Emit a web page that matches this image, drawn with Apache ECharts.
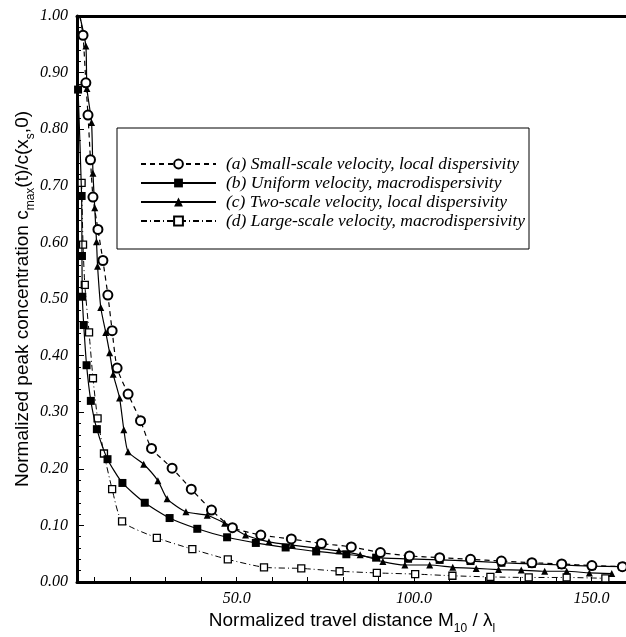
<!DOCTYPE html>
<html>
<head>
<meta charset="utf-8">
<script src="https://cdn.jsdelivr.net/npm/echarts@6/dist/echarts.min.js"></script>
<style>
  html, body { margin: 0; padding: 0; background: #fff; }
  #main { width: 626px; height: 637px; }
</style>
</head>
<body>
<div id="main"></div>
<script>
// data: [travel distance, peak concentration]
var smallScale = [[5.8,1.0],[6.7,0.966],[7.5,0.882],[8.1,0.825],[8.8,0.746],[9.5,0.680],[10.9,0.623],[12.3,0.568],[13.7,0.507],[14.9,0.444],[16.3,0.378],[19.4,0.332],[22.9,0.285],[26.0,0.236],[31.8,0.201],[37.2,0.164],[42.9,0.127],[48.8,0.096],[56.8,0.083],[65.4,0.076],[73.9,0.068],[82.3,0.062],[90.5,0.052],[98.7,0.046],[107.2,0.043],[115.9,0.040],[124.6,0.037],[133.2,0.034],[141.6,0.032],[150.1,0.029],[158.7,0.027]];
var uniform = [[5.3,0.87],[6.3,0.682],[6.4,0.576],[6.5,0.504],[6.9,0.454],[7.7,0.383],[8.9,0.320],[10.6,0.270],[13.6,0.217],[17.8,0.175],[24.1,0.140],[31.1,0.113],[38.9,0.094],[47.3,0.079],[55.4,0.069],[63.8,0.061],[72.4,0.054],[80.9,0.049],[89.3,0.043],[98.3,0.041],[107.2,0.039],[115.9,0.037],[124.6,0.034],[133.2,0.032],[141.6,0.030],[150.1,0.028],[158.7,0.027]];
var twoScale = [[5.8,1.0],[7.5,0.947],[7.8,0.872],[9.1,0.812],[9.5,0.722],[10.0,0.661],[10.5,0.601],[10.8,0.558],[11.7,0.485],[13.1,0.441],[14.2,0.405],[15.2,0.367],[17.0,0.325],[18.2,0.269],[19.4,0.230],[23.8,0.208],[27.8,0.179],[30.4,0.147],[35.7,0.124],[41.7,0.118],[46.6,0.104],[52.5,0.083],[59.1,0.071],[65.7,0.065],[72.4,0.060],[78.8,0.055],[84.8,0.048],[91.2,0.036],[97.4,0.030],[104.4,0.030],[110.9,0.026],[117.5,0.024],[123.8,0.022],[130.2,0.021],[136.8,0.019],[143.0,0.019],[149.4,0.016],[155.7,0.015]];
var largeScale = [[6.3,0.705],[6.7,0.596],[7.2,0.525],[8.4,0.441],[9.5,0.360],[10.8,0.289],[12.6,0.227],[14.9,0.164],[17.7,0.107],[27.5,0.078],[37.5,0.058],[47.5,0.040],[57.7,0.026],[68.2,0.024],[79.0,0.019],[89.5,0.016],[100.3,0.014],[110.8,0.011],[121.5,0.009],[132.3,0.008],[143.0,0.008],[153.9,0.0065]];

var names = [
  '(a) Small-scale velocity, local dispersivity',
  '(b) Uniform velocity, macrodispersivity',
  '(c) Two-scale velocity, local dispersivity',
  '(d) Large-scale velocity, macrodispersivity'
];
var xTickValues = [10,20,30,40,50,60,70,80,90,100,110,120,130,140,150];
var xLabelValues = [50,100,150];

var serifFont = '"Liberation Serif", "Times New Roman", serif';
var sansFont = '"Liberation Sans", Arial, sans-serif';

// hide the marker on the shared starting point at c = 1
function withStart(arr) {
  return arr.map(function (p) {
    if (p[1] === 1.0) return { value: p, symbol: 'none' };
    return p;
  });
}

// axis titles with lowered subscripts
var titleRich = {
  n: { fontFamily: sansFont, fontSize: 19, color: '#000', lineHeight: 20, verticalAlign: 'top' },
  sub: { fontFamily: sansFont, fontSize: 12, color: '#000', lineHeight: 12, verticalAlign: 'top', padding: [12, 0, 0, 0] }
};

var chart = echarts.init(document.getElementById('main'));

var option = {
  animation: false,
  backgroundColor: '#fff',
  grid: {
    left: 77,
    right: -1,
    top: 16,
    bottom: 55,
    outerBoundsMode: 'none'
  },
  legend: {
    orient: 'vertical',
    left: 135,
    top: 150,
    itemWidth: 75,
    itemHeight: 11,
    itemGap: 1,
    selectedMode: false,
    textStyle: {
      fontFamily: serifFont,
      fontStyle: 'italic',
      fontSize: 17.5,
      color: '#000',
      lineHeight: 16,
      padding: [0, 0, 0, 5]
    },
    data: names
  },
  graphic: [{
    type: 'rect',
    shape: { x: 117, y: 128, width: 412, height: 121 },
    style: { fill: 'none', stroke: '#000', lineWidth: 1 },
    z: 1
  }],
  xAxis: [{
    type: 'value',
    min: 5,
    max: 160,
    name: '{n|Normalized travel distance M}{sub|10}{n| / λ}{sub|l}',
    nameLocation: 'middle',
    nameGap: 29,
    nameMoveOverlap: false,
    nameTextStyle: { rich: titleRich },
    splitLine: { show: false },
    axisLine: { lineStyle: { color: '#000', width: 3 } },
    axisTick: {
      inside: true,
      length: 5,
      customValues: xTickValues,
      lineStyle: { color: '#000', width: 1 }
    },
    axisLabel: {
      customValues: xLabelValues,
      margin: 9,
      fontFamily: serifFont,
      fontStyle: 'italic',
      fontSize: 16,
      color: '#000',
      formatter: function (v) { return v.toFixed(1); }
    }
  }, {
    type: 'value',
    position: 'top',
    min: 5,
    max: 160,
    axisLine: { show: true, onZero: false, lineStyle: { color: '#000', width: 3 } },
    axisTick: { show: false },
    axisLabel: { show: false },
    splitLine: { show: false }
  }],
  yAxis: {
    type: 'value',
    min: 0,
    max: 1,
    interval: 0.1,
    name: '{n|Normalized peak concentration c}{sub|max}{n|(t)/c(x}{sub|s}{n|,0)}',
    nameLocation: 'middle',
    nameGap: 44,
    nameMoveOverlap: false,
    nameTextStyle: { rich: titleRich },
    splitLine: { show: false },
    axisLine: { lineStyle: { color: '#000', width: 3 } },
    axisTick: { inside: true, length: 7, lineStyle: { color: '#000', width: 1 } },
    minorTick: { show: true, splitNumber: 5, length: 4, lineStyle: { color: '#000', width: 1 } },
    axisLabel: {
      margin: 9,
      fontFamily: serifFont,
      fontStyle: 'italic',
      fontSize: 16,
      color: '#000',
      formatter: function (v) { return v.toFixed(2); }
    }
  },
  series: [{
    name: names[0],
    type: 'line',
    data: withStart(smallScale),
    smooth: 0.2,
    symbol: 'circle',
    symbolSize: 9,
    itemStyle: { color: '#fff', borderColor: '#000', borderWidth: 2 },
    lineStyle: { color: '#000', width: 1.2, type: [5, 4] },
    z: 5
  }, {
    name: names[1],
    type: 'line',
    data: uniform,
    smooth: 0.2,
    symbol: 'rect',
    symbolSize: 8,
    itemStyle: { color: '#000', borderColor: '#000', borderWidth: 0 },
    lineStyle: { color: '#000', width: 1.2 },
    z: 4
  }, {
    name: names[2],
    type: 'line',
    data: withStart(twoScale),
    smooth: 0.2,
    symbol: 'triangle',
    symbolSize: 7,
    itemStyle: { color: '#000', borderColor: '#000', borderWidth: 0 },
    lineStyle: { color: '#000', width: 1.2 },
    z: 4
  }, {
    name: names[3],
    type: 'line',
    data: largeScale,
    smooth: 0.2,
    symbol: 'rect',
    symbolSize: 7,
    itemStyle: { color: '#fff', borderColor: '#000', borderWidth: 1.3 },
    lineStyle: { color: '#000', width: 1, type: [6, 3, 1, 3] },
    z: 3
  }]
};

chart.setOption(option);
</script>
</body>
</html>
